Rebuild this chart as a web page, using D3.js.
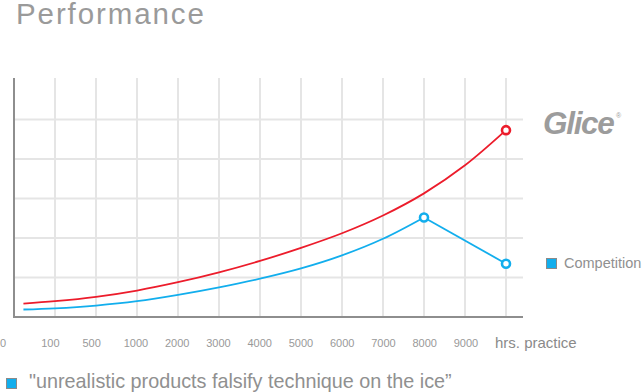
<!DOCTYPE html>
<html>
<head>
<meta charset="utf-8">
<script src="https://cdn.jsdelivr.net/npm/d3@7"></script>
<style>
  html, body { margin: 0; padding: 0; background: #fff; }
  svg { display: block; font-family: "Liberation Sans", Arial, Helvetica, sans-serif; }
</style>
</head>
<body>
<svg id="chart" width="642" height="392"></svg>
<script>
// ---- data ----
const xLabels = ["0", "100", "500", "1000", "2000", "3000", "4000", "5000", "6000", "7000", "8000", "9000", "hrs. practice"];
const ySteps = [1, 2, 3, 4, 5];
// slot positions (0 = "0", 1 = "100", ... 12 = "hrs. practice")
const glicePos = [0.23, 1, 2, 3, 4, 5, 6, 7, 8, 9, 10, 11, 12];
const gliceVal = [0.34, 0.40, 0.51, 0.67, 0.88, 1.13, 1.42, 1.75, 2.12, 2.57, 3.13, 3.84, 4.73];
const compPos = [0.23, 1, 2, 3, 4, 5, 6, 7, 8, 9, 10];
const compVal = [0.19, 0.22, 0.29, 0.40, 0.56, 0.75, 0.97, 1.23, 1.56, 1.98, 2.52];
const compTailPos = [10, 12];
const compTailVal = [2.52, 1.35];
const gliceMarkers = [{ p: 12, v: 4.73 }];
const compMarkers = [{ p: 10, v: 2.52 }, { p: 12, v: 1.35 }];

const RED = "#ec1c2b";
const BLUE = "#12aeed";
const GRID = "#e5e5e5";
const AXIS = "#8e8e8e";
const TEXT = "#909090";

const svg = d3.select("#chart");

const x = d3.scaleLinear().domain([0, 12]).range([14, 506]);
const y = d3.scaleLinear().domain([0, 6]).range([317, 80]);
const xLab = d3.scalePoint().domain(xLabels).range([0, 495]);

// title
svg.append("text").attr("x", 16).attr("y", 24)
  .attr("font-size", 29.5).attr("fill", "#9a9a9a").attr("letter-spacing", 1.9)
  .text("Performance");

// grid
const g = svg.append("g");
g.selectAll("line.v").data(d3.range(1, 13)).join("line")
  .attr("x1", d => x(d)).attr("x2", d => x(d))
  .attr("y1", 78).attr("y2", 317)
  .attr("stroke", GRID).attr("stroke-width", 2);
g.selectAll("line.h").data(ySteps).join("line")
  .attr("x1", 14).attr("x2", 523)
  .attr("y1", d => y(d)).attr("y2", d => y(d))
  .attr("stroke", GRID).attr("stroke-width", 2);

// axes
svg.append("line").attr("x1", 13).attr("x2", 523).attr("y1", 317).attr("y2", 317)
  .attr("stroke", AXIS).attr("stroke-width", 2);
svg.append("line").attr("x1", 14).attr("x2", 14).attr("y1", 78).attr("y2", 318)
  .attr("stroke", AXIS).attr("stroke-width", 2);

// x labels
svg.selectAll("text.xl").data(xLabels).join("text")
  .attr("class", "xl")
  .attr("x", d => xLab(d))
  .attr("y", d => d === "hrs. practice" ? 348 : 347)
  .attr("font-size", d => d === "hrs. practice" ? 15 : 11)
  .attr("fill", d => d === "hrs. practice" ? "#8a8a8a" : "#999")
  .text(d => d);

// lines
const curve = d3.line().x(d => x(d[0])).y(d => y(d[1])).curve(d3.curveCatmullRom.alpha(0.5));
const straight = d3.line().x(d => x(d[0])).y(d => y(d[1]));

svg.append("path").attr("d", curve(d3.zip(compPos, compVal)))
  .attr("fill", "none").attr("stroke", BLUE).attr("stroke-width", 1.8);
svg.append("path").attr("d", straight(d3.zip(compTailPos, compTailVal)))
  .attr("fill", "none").attr("stroke", BLUE).attr("stroke-width", 1.8);
svg.append("path").attr("d", curve(d3.zip(glicePos, gliceVal)))
  .attr("fill", "none").attr("stroke", RED).attr("stroke-width", 1.8);

// markers
svg.selectAll("circle.c").data(compMarkers).join("circle")
  .attr("cx", d => x(d.p)).attr("cy", d => y(d.v)).attr("r", 4)
  .attr("fill", "#fff").attr("stroke", BLUE).attr("stroke-width", 2.6);
svg.selectAll("circle.g").data(gliceMarkers).join("circle")
  .attr("cx", d => x(d.p)).attr("cy", d => y(d.v)).attr("r", 4)
  .attr("fill", "#fff").attr("stroke", RED).attr("stroke-width", 2.6);

// Glice logo (text)
svg.append("text").attr("x", 543).attr("y", 134)
  .attr("font-size", 31.5).attr("font-style", "italic").attr("font-weight", "bold")
  .attr("letter-spacing", -1.3).attr("fill", "#9c9c9c").text("Glice");
svg.append("text").attr("x", 616).attr("y", 118)
  .attr("font-size", 7).attr("fill", "#9c9c9c").text("®");

// Competition legend
svg.append("rect").attr("x", 546.5).attr("y", 258.5).attr("width", 10).attr("height", 10)
  .attr("fill", BLUE).attr("stroke", "#8a8a8a").attr("stroke-width", 1);
svg.append("text").attr("x", 564).attr("y", 268)
  .attr("font-size", 14.5).attr("fill", TEXT).text("Competition");

// bottom legend
svg.append("rect").attr("x", 6.5).attr("y", 378.5).attr("width", 10).attr("height", 10)
  .attr("fill", BLUE).attr("stroke", "#8a8a8a").attr("stroke-width", 1);
svg.append("text").attr("x", 29).attr("y", 388)
  .attr("font-size", 19.8).attr("fill", TEXT)
  .text("\"unrealistic products falsify technique on the ice\u201D");
</script>
</body>
</html>
